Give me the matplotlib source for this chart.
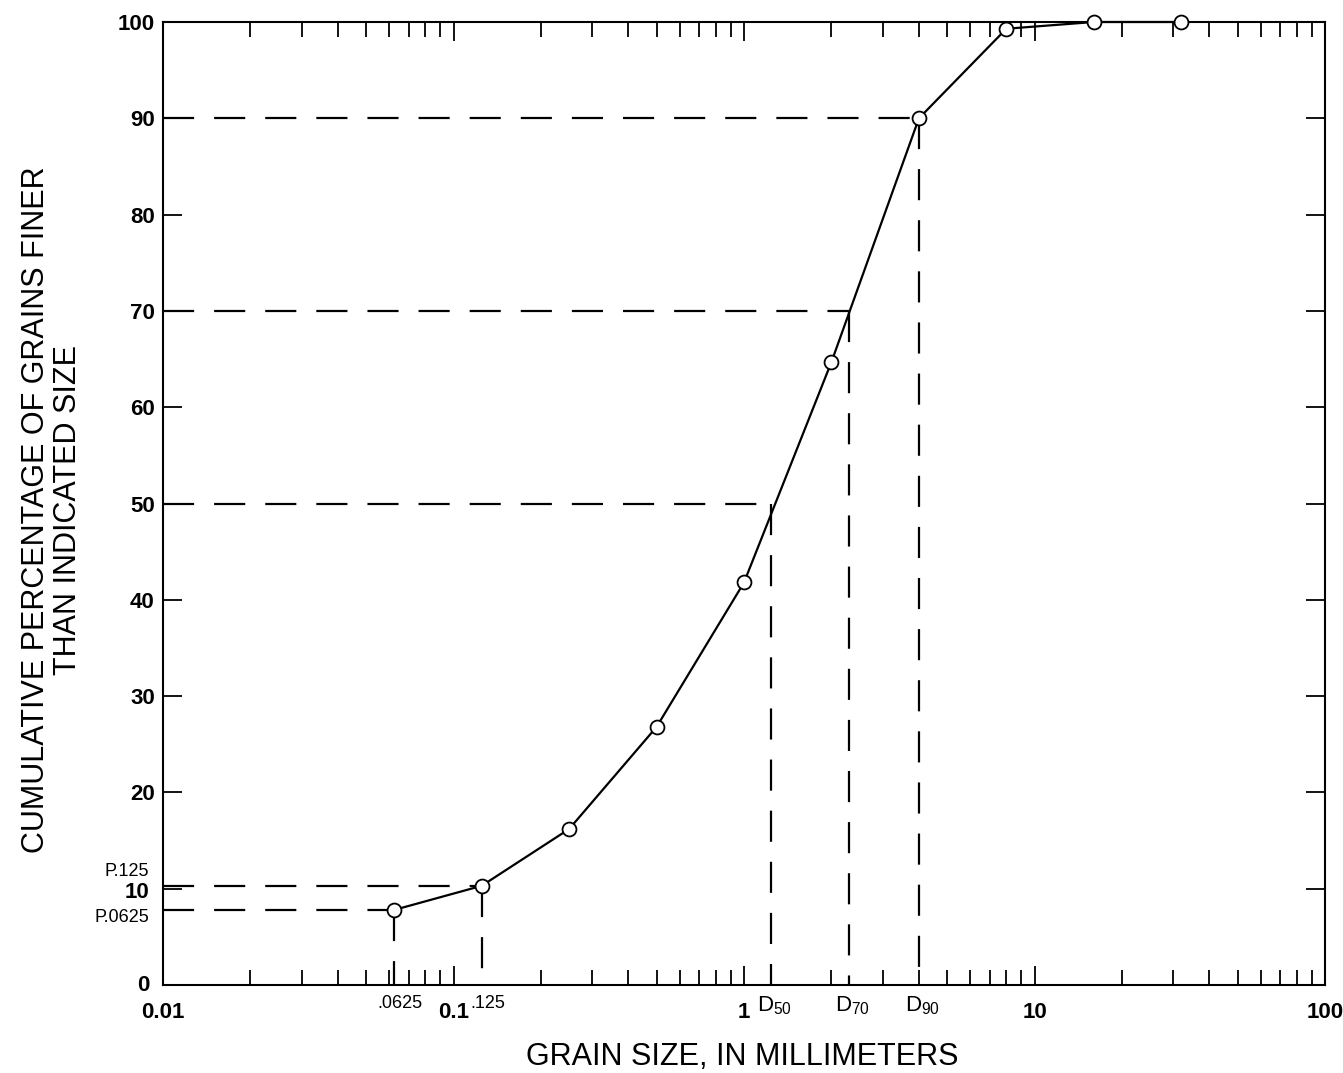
import numpy as np
import matplotlib.pyplot as plt
from matplotlib.ticker import FixedLocator, NullFormatter, LogLocator
from matplotlib.transforms import blended_transform_factory

plt.rcParams["font.family"] = ["Liberation Sans", "DejaVu Sans"]
plt.rcParams["mathtext.default"] = "regular"

# ------------------------------------------------------------
# Data
# ------------------------------------------------------------
grain_mm = [0.0625, 0.125, 0.25, 0.5, 1.0, 2.0, 4.0, 8.0, 16.0, 32.0]
pct_finer = [7.8, 10.3, 16.2, 26.8, 41.8, 64.7, 90.0, 99.3, 100.0, 100.0]

# percentile lines: (size, percent, label)
d_sizes = [1.24, 2.3, 4.0]
d_pcts = [50, 70, 90]
d_labels = ["D$_{50}$", "D$_{70}$", "D$_{90}$"]

p_sizes = [0.0625, 0.125]
p_pcts = [7.8, 10.3]
p_labels = ["P.0625", "P.125"]
p_xlabels = [".0625", ".125"]

x_major = [0.01, 0.1, 1, 10, 100]
x_major_labels = ["0.01", "0.1", "1", "10", "100"]
y_ticks = list(range(0, 101, 10))

# ------------------------------------------------------------
# Figure
# ------------------------------------------------------------
fig = plt.figure(figsize=(13.43, 10.73), dpi=100)
ax = fig.add_axes([0.1214, 0.082, 0.8652, 0.8975])
ax.set_xscale("log")
ax.set_xlim(0.01, 100)
ax.set_ylim(0, 100)

dash = dict(color="black", lw=1.6, linestyle=(0, (14, 9)))

# horizontal + vertical guide lines
for s, p in zip(d_sizes + p_sizes, d_pcts + p_pcts):
    ax.plot([0.01, s], [p, p], **dash)
    ax.plot([s, s], [p, 0], **dash)

# grain size curve
ax.plot(grain_mm, pct_finer, color="black", lw=1.6, marker="o", ms=10,
        mfc="white", mec="black", mew=1.3, zorder=5, clip_on=False)

# ticks
ax.xaxis.set_major_locator(FixedLocator(x_major))
ax.xaxis.set_minor_locator(LogLocator(base=10, subs=np.arange(2, 10)))
ax.xaxis.set_minor_formatter(NullFormatter())
ax.set_xticklabels([])
ax.set_yticks(y_ticks)
ax.set_yticklabels([str(v) if v not in (0, 10) else "" for v in y_ticks],
                   fontsize=16, fontweight="bold")
ax.tick_params(axis="both", which="major", direction="in", length=14, width=1.3,
               top=True, right=True, pad=6)
ax.tick_params(axis="x", which="minor", direction="in", length=11, width=1.3,
               top=True)
ax.tick_params(axis="y", which="minor", left=False, right=False)
for sp in ax.spines.values():
    sp.set_linewidth(1.5)

tr = blended_transform_factory(ax.transData, ax.transAxes)
ytr = ax.get_yaxis_transform()

# major x labels
for v, lab in zip(x_major, x_major_labels):
    ax.text(v, -0.018, lab, transform=tr, ha="center", va="top", fontsize=16,
            fontweight="bold")

# special x labels
for s, lab in zip(p_sizes, p_xlabels):
    ax.text(s * 1.05, -0.010, lab, transform=tr, ha="center", va="top", fontsize=13)
for s, lab in zip(d_sizes, d_labels):
    ax.text(s * 1.03, -0.010, lab, transform=tr, ha="center", va="top", fontsize=16)

# y-axis special labels
ax.text(-0.012, 0, "0", transform=ytr, ha="right", va="center",
        fontsize=16, fontweight="bold")
ax.text(-0.012, 9.6, "10", transform=ytr, ha="right", va="center",
        fontsize=16, fontweight="bold")
ax.text(-0.012, 11.8, p_labels[1], transform=ytr, ha="right",
        va="center", fontsize=13)
ax.text(-0.012, 7.0, p_labels[0], transform=ytr, ha="right",
        va="center", fontsize=13)

# axis titles
fig.text(0.553, 0.015, "GRAIN SIZE, IN MILLIMETERS", fontsize=22,
         ha="center", va="center")
fig.text(0.0385, 0.525, "CUMULATIVE PERCENTAGE OF GRAINS FINER\nTHAN INDICATED SIZE",
         fontsize=22, rotation=90, ha="center", va="center", linespacing=1.1,
         multialignment="center")

fig.savefig("out.png", dpi=100)
